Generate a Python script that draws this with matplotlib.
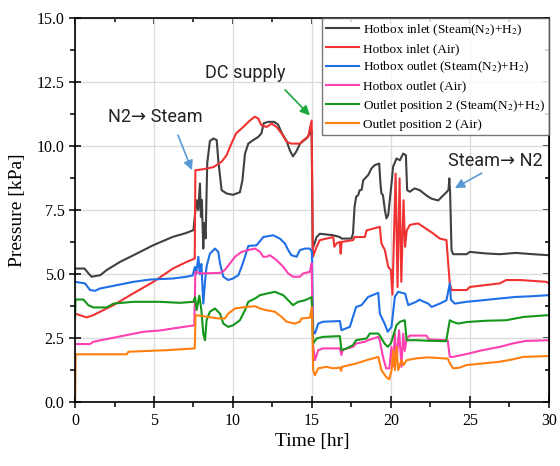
import matplotlib
matplotlib.use("Agg")
import matplotlib.pyplot as plt
from matplotlib.ticker import MultipleLocator

plt.rcParams['font.family'] = ['Liberation Serif', 'DejaVu Serif']
plt.rcParams['mathtext.fontset'] = 'stix'

# (time [hr], pressure [kPa])
hb_in_steam = [(0.0, 5.22), (0.6, 5.22), (0.85, 5.03), (1.05, 4.9), (1.6, 4.96), (2.0, 5.16),
               (2.85, 5.48), (3.7, 5.74), (4.95, 6.13), (6.2, 6.46), (7.0, 6.6), (7.5, 6.72),
               (7.6, 7.37), (7.7, 7.89), (7.8, 7.5), (7.91, 8.54), (7.97, 7.24), (8.03, 7.9),
               (8.12, 6.0), (8.18, 7.0), (8.27, 6.4), (8.37, 9.33), (8.54, 10.2), (8.76, 10.3),
               (8.97, 10.24), (9.07, 9.45), (9.28, 8.28), (9.6, 8.15), (10.0, 8.1), (10.44, 8.2),
               (10.6, 8.67), (10.76, 9.7), (10.97, 10.1), (11.29, 10.24), (11.6, 10.36),
               (11.8, 10.5), (11.95, 10.9), (12.25, 10.95), (12.6, 10.95), (12.85, 10.85),
               (13.1, 10.5), (13.4, 10.2), (13.6, 9.84), (13.8, 9.6), (14.0, 9.78), (14.25, 10.1),
               (14.65, 10.3), (14.87, 10.49), (14.98, 10.62), (15.05, 6.0), (15.3, 6.45),
               (15.5, 6.58), (16.35, 6.52), (16.77, 6.45), (16.88, 6.39), (17.5, 6.39),
               (17.6, 6.58), (17.7, 7.63), (17.8, 8.02), (17.93, 8.09), (18.03, 8.28),
               (18.15, 8.3), (18.25, 8.67), (18.56, 8.87), (18.77, 9.13), (18.98, 9.26),
               (19.26, 9.32), (19.34, 8.54), (19.4, 8.15), (19.5, 8.09), (19.62, 7.5),
               (19.72, 7.18), (19.83, 7.31), (19.93, 7.89), (20.04, 8.54), (20.14, 9.2),
               (20.36, 9.52), (20.57, 9.45), (20.78, 9.71), (20.95, 9.65), (21.03, 8.28),
               (21.2, 8.22), (21.5, 8.35), (21.83, 8.28), (22.26, 8.07), (22.57, 7.95),
               (23.0, 7.88), (23.3, 8.07), (23.52, 8.2), (23.65, 8.3), (23.7, 8.74), (23.75, 8.2),
               (23.84, 5.94), (23.94, 5.78), (24.8, 5.78), (25.0, 5.87), (26.0, 5.81),
               (26.9, 5.78), (27.9, 5.83), (29.0, 5.78), (30.0, 5.74)]

hb_in_air = [(0.0, 3.46), (0.3, 3.4), (0.74, 3.31), (1.16, 3.4), (2.43, 3.79), (3.69, 4.25),
             (4.96, 4.7), (6.2, 5.22), (7.07, 5.48), (7.58, 5.61), (7.62, 9.06), (8.12, 9.1),
             (8.76, 9.18), (9.28, 9.39), (9.6, 9.65), (9.9, 10.1), (10.2, 10.5), (10.65, 10.75),
             (11.07, 11.0), (11.38, 11.15), (11.6, 11.08), (11.8, 10.82), (12.13, 10.75),
             (12.45, 10.88), (12.76, 10.75), (13.08, 10.5), (13.4, 10.17), (13.7, 10.1),
             (14.24, 10.1), (14.45, 10.23), (14.76, 10.36), (14.98, 11.0), (15.06, 5.68),
             (15.3, 6.07), (15.5, 6.33), (16.35, 6.45), (16.42, 6.07), (16.56, 6.2),
             (16.77, 6.26), (16.82, 5.8), (16.88, 6.26), (17.6, 6.33), (17.7, 6.45),
             (18.35, 6.45), (18.46, 6.71), (19.3, 6.85), (19.4, 6.2), (19.62, 5.94),
             (19.83, 5.29), (20.0, 5.16), (20.1, 4.2), (20.3, 8.93), (20.42, 4.5),
             (20.55, 8.74), (20.66, 4.7), (20.8, 7.89), (20.9, 6.07), (21.0, 6.7),
             (21.2, 6.92), (21.4, 6.95), (21.73, 6.98), (22.05, 6.85), (22.68, 6.59),
             (23.1, 6.39), (23.52, 6.33), (23.63, 5.42), (23.73, 4.64), (23.84, 4.38),
             (24.8, 4.38), (25.0, 4.5), (26.9, 4.64), (27.3, 4.77), (28.2, 4.77),
             (29.85, 4.7), (30.0, 4.64)]

hb_out_steam = [(0.0, 4.7), (0.63, 4.64), (0.95, 4.38), (1.27, 4.35), (1.58, 4.44), (2.64, 4.57),
                (3.69, 4.7), (4.75, 4.79), (6.2, 4.83), (7.07, 4.9), (7.45, 4.95), (7.59, 5.28),
                (7.66, 5.0), (7.81, 5.68), (7.9, 5.0), (8.0, 5.4), (8.12, 3.85), (8.23, 4.7),
                (8.33, 5.3), (8.54, 5.8), (8.86, 6.0), (9.07, 5.87), (9.18, 5.42), (9.39, 4.9),
                (9.7, 4.77), (10.0, 4.83), (10.34, 4.96), (10.55, 5.29), (10.76, 5.68),
                (10.97, 6.1), (11.5, 6.13), (11.92, 6.45), (12.55, 6.52), (12.97, 6.39),
                (13.29, 6.2), (13.5, 5.94), (13.7, 5.74), (14.03, 5.68), (14.24, 5.94),
                (14.56, 6.0), (14.87, 6.0), (15.0, 5.87), (15.08, 2.8), (15.19, 2.68),
                (15.4, 3.07), (15.7, 3.14), (16.77, 3.17), (16.87, 2.81), (17.4, 2.94),
                (17.6, 3.33), (17.8, 3.72), (18.14, 3.79), (18.56, 4.11), (19.2, 4.27),
                (19.3, 3.46), (19.6, 3.07), (19.8, 2.75), (20.04, 2.94), (20.25, 4.11),
                (20.46, 4.31), (20.9, 4.24), (21.1, 3.79), (21.6, 3.92), (21.8, 4.0),
                (22.36, 3.85), (22.58, 3.72), (23.1, 3.85), (23.52, 3.98), (23.73, 4.64),
                (23.8, 4.0), (24.05, 3.85), (24.79, 3.92), (25.8, 3.98), (26.9, 4.05),
                (27.9, 4.11), (29.0, 4.14), (30.0, 4.18)]

hb_out_air = [(0.0, 2.27), (0.95, 2.27), (1.16, 2.36), (2.22, 2.49), (3.27, 2.62), (4.33, 2.75),
              (5.38, 2.8), (6.43, 2.9), (7.55, 3.0), (7.62, 5.09), (8.0, 5.03), (9.18, 5.05),
              (9.49, 5.16), (9.81, 5.42), (10.13, 5.68), (10.55, 5.87), (11.08, 5.96),
              (11.4, 6.0), (11.71, 5.87), (11.92, 5.68), (12.13, 5.68), (12.34, 5.74),
              (12.76, 5.55), (13.18, 5.29), (13.5, 5.03), (13.8, 4.9), (14.24, 4.9),
              (14.45, 5.03), (14.87, 5.09), (14.98, 5.42), (15.08, 2.16), (15.19, 1.64),
              (15.4, 2.03), (15.7, 2.1), (16.77, 2.1), (16.87, 1.84), (16.95, 2.05),
              (17.6, 2.16), (17.8, 2.29), (18.35, 2.36), (18.56, 2.42), (19.2, 2.55),
              (19.3, 2.4), (19.5, 1.77), (19.7, 1.32), (19.9, 1.32), (20.04, 2.16),
              (20.15, 1.4), (20.25, 2.68), (20.36, 1.6), (20.52, 2.81), (20.67, 1.38),
              (20.78, 2.68), (20.88, 2.0), (21.0, 2.49), (21.2, 2.6), (22.25, 2.6),
              (22.4, 2.45), (23.6, 2.42), (23.73, 1.77), (23.94, 1.77), (24.79, 1.88),
              (25.8, 2.03), (26.9, 2.16), (27.7, 2.29), (28.5, 2.39), (30.0, 2.42)]

pos2_steam = [(0.0, 3.3), (0.03, 4.01), (0.53, 4.01), (0.84, 3.79), (1.16, 3.7), (2.0, 3.7),
              (2.43, 3.85), (3.69, 3.92), (5.38, 3.92), (6.65, 3.88), (7.49, 3.92), (7.6, 4.1),
              (7.7, 3.6), (7.87, 4.16), (8.0, 3.6), (8.12, 2.68), (8.23, 2.42), (8.33, 3.2),
              (8.54, 3.53), (8.86, 3.66), (9.18, 3.46), (9.39, 3.07), (9.7, 2.94), (10.0, 3.0),
              (10.44, 3.2), (10.76, 3.59), (10.97, 3.92), (11.4, 4.05), (11.71, 4.18),
              (12.13, 4.24), (12.66, 4.31), (13.18, 4.18), (13.5, 3.98), (13.8, 3.79),
              (14.13, 3.92), (14.56, 3.98), (14.98, 4.1), (15.08, 2.29), (15.3, 2.49),
              (15.7, 2.55), (16.77, 2.58), (16.87, 2.03), (17.2, 2.1), (17.6, 2.23),
              (17.8, 2.42), (18.46, 2.49), (18.67, 2.68), (19.2, 2.68), (19.3, 2.6),
              (19.6, 2.29), (19.8, 2.16), (20.0, 2.3), (20.36, 3.01), (20.57, 3.14),
              (20.88, 3.2), (21.0, 2.42), (21.6, 2.42), (22.35, 2.4), (23.5, 2.38),
              (23.73, 3.2), (23.94, 3.13), (24.26, 3.07), (24.79, 3.13), (26.0, 3.18),
              (27.3, 3.2), (28.4, 3.33), (30.0, 3.4)]

pos2_air = [(0.0, 0.0), (0.04, 1.87), (3.27, 1.87), (3.38, 1.97), (5.8, 2.03), (7.58, 2.1),
            (7.63, 3.4), (8.44, 3.33), (9.07, 3.27), (9.49, 3.27), (9.7, 3.46), (10.13, 3.66),
            (10.86, 3.72), (11.4, 3.75), (11.71, 3.66), (12.13, 3.59), (12.66, 3.53),
            (13.08, 3.33), (13.4, 3.14), (13.9, 3.07), (14.24, 3.14), (14.34, 3.27),
            (14.87, 3.3), (15.0, 3.72), (15.08, 1.25), (15.19, 1.05), (15.4, 1.32),
            (15.93, 1.38), (16.35, 1.32), (16.77, 1.35), (16.85, 1.22), (16.9, 1.38),
            (17.8, 1.51), (18.46, 1.64), (19.2, 1.77), (19.4, 1.25), (19.7, 0.99), (19.9, 0.89),
            (20.04, 1.25), (20.15, 2.03), (20.25, 1.25), (20.36, 2.16), (20.46, 1.25),
            (20.67, 1.64), (20.8, 1.45), (21.0, 1.64), (21.6, 1.71), (22.35, 1.75),
            (23.6, 1.7), (23.75, 1.5), (23.94, 1.32), (24.37, 1.35), (24.79, 1.45),
            (25.8, 1.51), (26.9, 1.58), (27.7, 1.67), (28.4, 1.77), (30.0, 1.8)]

labels = ["Hotbox inlet (Steam(N$_2$)+H$_2$)",
          "Hotbox inlet (Air)",
          "Hotbox outlet (Steam(N$_2$)+H$_2$)",
          "Hotbox outlet (Air)",
          "Outlet position 2 (Steam(N$_2$)+H$_2$)",
          "Outlet position 2 (Air)"]
colors = ["#404040", "#f03232", "#1f6fe6", "#ff40b0", "#14961a", "#ff8010"]
series = [hb_in_steam, hb_in_air, hb_out_steam, hb_out_air, pos2_steam, pos2_air]

# annotation texts and arrows (text centre, arrow tail, arrow head) in data units
notes = ["N2→ Steam", "DC supply", "Steam→ N2"]
note_xy = [(5.06, 11.13), (10.8, 12.85), (26.6, 9.41)]
arrow_tail = [(6.52, 10.43), (13.3, 12.2), (25.76, 8.95)]
arrow_head = [(7.4, 9.06), (14.87, 11.2), (24.05, 8.36)]
arrow_colors = ["#5b9bd5", "#18a83c", "#5b9bd5"]

fig = plt.figure(figsize=(5.6, 4.66), dpi=100)
ax = fig.add_axes([0.134, 0.137, 0.846, 0.824])

for data, lab, c in zip(series, labels, colors):
    t, p = zip(*data)
    ax.plot(t, p, color=c, lw=1.5, label=lab)

ax.set_xlim(0, 30)
ax.set_ylim(0, 15)
ax.xaxis.set_major_locator(MultipleLocator(5))
ax.xaxis.set_minor_locator(MultipleLocator(2.5))
ax.yaxis.set_major_locator(MultipleLocator(2.5))
ax.yaxis.set_minor_locator(MultipleLocator(1.25))
ax.set_yticks([0, 2.5, 5, 7.5, 10, 12.5, 15])
ax.set_yticklabels(["0.0", "2.5", "5.0", "7.5", "10.0", "12.5", "15.0"])
ax.grid(True, which='major', color='#dcdcdc', lw=1)
ax.set_axisbelow(True)
ax.tick_params(which='major', direction='inout', length=8, width=1.1, labelsize=11.5)
ax.tick_params(which='minor', direction='out', length=3.5, width=1.1)
for s in ax.spines.values():
    s.set_linewidth(1.2)

# mirrored ticks on top and right, pointing inward
top = ax.secondary_xaxis('top')
top.xaxis.set_major_locator(MultipleLocator(5))
top.xaxis.set_minor_locator(MultipleLocator(2.5))
top.tick_params(which='major', direction='in', length=4.5, width=1.1, labeltop=False)
top.tick_params(which='minor', direction='in', length=3, width=1.1)
right = ax.secondary_yaxis('right')
right.yaxis.set_major_locator(MultipleLocator(2.5))
right.yaxis.set_minor_locator(MultipleLocator(1.25))
right.tick_params(which='major', direction='in', length=4.5, width=1.1, labelright=False)
right.tick_params(which='minor', direction='in', length=3, width=1.1)

ax.set_xlabel("Time [hr]", fontsize=14, labelpad=3)
ax.set_ylabel("Pressure [kPa]", fontsize=14, labelpad=8)

leg = ax.legend(loc='upper right', fontsize=9.5, frameon=True, fancybox=False,
                edgecolor='#555555', borderaxespad=0.0, handlelength=2.5,
                handletextpad=0.25, labelspacing=0.38, borderpad=0.3)
leg.get_frame().set_linewidth(1.0)

sans = ['Roboto', 'DejaVu Sans']
for txt, xy, tail, head, ac in zip(notes, note_xy, arrow_tail, arrow_head, arrow_colors):
    ax.text(xy[0], xy[1], txt, ha='center', va='center', fontsize=13, family=sans,
            color='#222222')
    ax.annotate("", xy=head, xytext=tail,
                arrowprops=dict(arrowstyle='-|>', color=ac, lw=1.2, mutation_scale=14,
                                shrinkA=0, shrinkB=0))

fig.savefig("out.png", dpi=100)
